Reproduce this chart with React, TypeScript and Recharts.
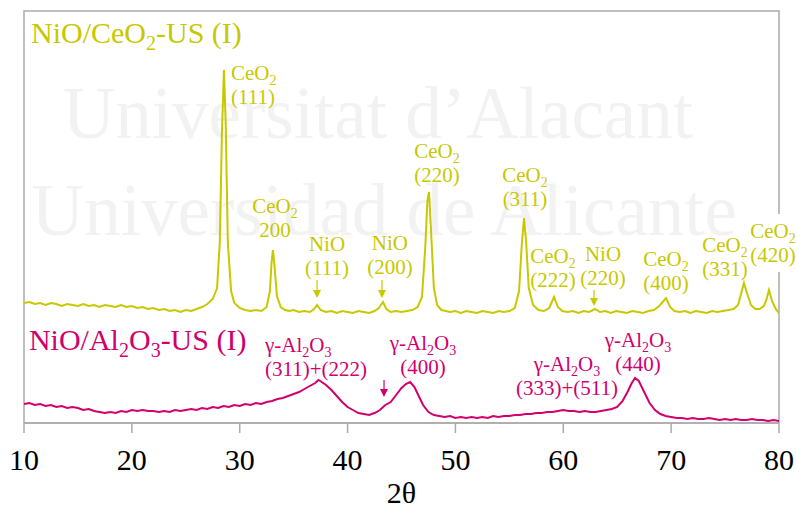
import React from "react";
import { LineChart, Line, XAxis, YAxis, ReferenceArea, ReferenceDot } from "recharts";

// 2θ positions and intensities (arbitrary units)
const ceo2Angles = [
  10, 10.5, 11, 11.5, 12, 12.5, 13, 13.5, 14, 14.5,
  15, 15.5, 16, 16.5, 17, 17.5, 18, 18.5, 19, 19.5,
  20, 20.5, 21, 21.5, 22, 22.5, 23, 23.5, 24, 24.5,
  25, 25.5, 26, 26.5, 27, 27.5, 27.9, 28.15, 28.35, 28.54,
  28.7, 28.9, 29.2, 29.5, 30, 30.5, 31, 31.5, 32, 32.5,
  32.8, 32.95, 33.08, 33.22, 33.45, 33.8, 34.2, 34.6, 35, 35.5,
  36, 36.5, 36.9, 37.17, 37.5, 38, 38.5, 39, 39.5, 40,
  40.5, 41, 41.5, 42, 42.5, 42.9, 43.28, 43.6, 44, 44.5,
  45, 45.5, 46, 46.5, 46.9, 47.2, 47.4, 47.55, 47.75, 48,
  48.3, 48.7, 49.1, 49.5, 50, 50.5, 51, 51.5, 52, 52.5,
  53, 53.5, 54, 54.5, 55, 55.5, 55.9, 56.15, 56.36, 56.55,
  56.8, 57.2, 57.7, 58.2, 58.7, 59.14, 59.5, 59.9, 60.4, 60.9,
  61.4, 61.9, 62.4, 62.94, 63.4, 63.9, 64.4, 64.9, 65.4, 65.9,
  66.4, 66.9, 67.4, 67.9, 68.4, 68.9, 69.52, 69.9, 70.3, 70.8,
  71.3, 71.8, 72.3, 72.8, 73.3, 73.8, 74.3, 74.8, 75.3, 75.8,
  76.2, 76.5, 76.75, 77, 77.4, 77.8, 78.2, 78.6, 78.85, 79.07,
  79.35, 79.7, 80,
];
const ceo2Counts = [
  120, 121, 119, 120, 118, 120, 119, 117, 119, 118,
  117, 119, 117, 118, 116, 118, 117, 116, 118, 116,
  117, 115, 116, 114, 115, 113, 114, 112, 113, 111,
  113, 112, 114, 116, 119, 124, 135, 180, 290, 353,
  300, 180, 132, 120, 115, 113, 112, 113, 112, 116,
  132, 160, 173, 158, 127, 116, 113, 112, 113, 111,
  112, 111, 114, 118, 113, 111, 112, 110, 112, 111,
  110, 112, 111, 110, 112, 115, 121, 114, 111, 112,
  111, 112, 113, 116, 126, 175, 222, 231, 190, 135,
  118, 113, 112, 111, 112, 110, 112, 111, 110, 112,
  111, 110, 112, 111, 112, 115, 132, 178, 205, 182,
  135, 118, 113, 112, 115, 126, 116, 112, 111, 112,
  110, 112, 111, 114, 111, 112, 110, 112, 111, 110,
  112, 111, 110, 112, 113, 117, 125, 116, 112, 111,
  112, 110, 112, 111, 110, 112, 111, 112, 113, 114,
  118, 130, 140, 131, 118, 114, 114, 117, 124, 133,
  122, 114, 110,
];

const al2o3Angles = [
  10, 10.5, 11, 11.5, 12, 12.5, 13, 13.5, 14, 14.5,
  15, 15.5, 16, 16.5, 17, 17.5, 18, 18.5, 19, 19.5,
  20, 20.5, 21, 21.5, 22, 22.5, 23, 23.5, 24, 24.5,
  25, 25.5, 26, 26.5, 27, 27.5, 28, 28.5, 29, 29.5,
  30, 30.5, 31, 31.5, 32, 32.5, 33, 33.5, 34, 34.5,
  35, 35.5, 36, 36.5, 37, 37.3, 37.6, 38, 38.5, 39,
  39.5, 40, 40.5, 41, 41.5, 42, 42.5, 43, 43.5, 44,
  44.5, 45, 45.4, 45.8, 46.2, 46.6, 47, 47.5, 48, 48.5,
  49, 49.5, 50, 50.5, 51, 51.5, 52, 52.5, 53, 53.5,
  54, 54.5, 55, 55.5, 56, 56.5, 57, 57.5, 58, 58.5,
  59, 59.5, 60, 60.5, 61, 61.5, 62, 62.5, 63, 63.5,
  64, 64.5, 65, 65.5, 66, 66.35, 66.65, 67, 67.5, 68,
  68.5, 69, 69.5, 70, 70.5, 71, 71.5, 72, 72.5, 73,
  73.5, 74, 74.5, 75, 75.5, 76, 76.5, 77, 77.5, 78,
  78.5, 79, 79.5, 80,
];
const al2o3Counts = [
  19, 20, 18, 19, 17, 18, 16, 17, 15, 16,
  15, 13, 14, 12, 11, 10, 11, 10, 12, 11,
  13, 12, 13, 12, 12, 11, 12, 11, 13, 12,
  13, 14, 13, 15, 14, 16, 15, 17, 16, 18,
  17, 19, 18, 20, 19, 21, 22, 24, 25, 27,
  29, 31, 34, 37, 40, 43, 41, 38, 33, 27,
  21, 16, 13, 10, 9, 8, 10, 13, 18, 21,
  28, 35, 39, 41, 36, 27, 18, 11, 8, 7,
  6, 7, 5, 6, 5, 6, 5, 6, 5, 7,
  6, 7, 7, 8, 8, 9, 9, 10, 10, 11,
  11, 12, 13, 12, 12, 11, 12, 11, 11, 12,
  13, 14, 16, 22, 32, 40, 45, 42, 31, 20,
  13, 9, 7, 6, 5, 5, 4, 5, 4, 4,
  5, 4, 3, 4, 3, 4, 3, 3, 4, 3,
  3, 2, 3, 2,
];

const xTicks = [10, 20, 30, 40, 50, 60, 70, 80];

// peak labels: "_n" marks a subscript digit
const ceo2Labels = [
  { x: 10.65, y: 380, lines: ["NiO/CeO_2-US (I)"], anchor: "start", size: 30 },
  { x: 29.19, y: 343, lines: ["CeO_2", "(111)"], anchor: "start" },
  { x: 33.27, y: 210, lines: ["CeO_2", "200"] },
  { x: 38.09, y: 172, lines: ["NiO", "(111)"] },
  { x: 43.93, y: 173, lines: ["NiO", "(200)"] },
  { x: 48.29, y: 265, lines: ["CeO_2", "(220)"] },
  { x: 56.45, y: 241, lines: ["CeO_2", "(311)"] },
  { x: 59.05, y: 160, lines: ["CeO_2", "(222)"] },
  { x: 63.68, y: 162, lines: ["NiO", "(220)"] },
  { x: 69.52, y: 157, lines: ["CeO_2", "(400)"] },
  { x: 74.99, y: 171, lines: ["CeO_2", "(331)"] },
  { x: 79.44, y: 185, lines: ["CeO_2", "(420)"], bg: true },
];
const al2o3Labels = [
  { x: 10.46, y: 73, lines: ["NiO/Al_2O_3-US (I)"], anchor: "start", size: 30 },
  { x: 32.34, y: 71, lines: ["γ-Al_2O_3", "(311)+(222)"], anchor: "start" },
  { x: 46.99, y: 73, lines: ["γ-Al_2O_3", "(400)"] },
  { x: 60.34, y: 52, lines: ["γ-Al_2O_3", "(333)+(511)"] },
  { x: 66.93, y: 76, lines: ["γ-Al_2O_3", "(440)"] },
];
const ceo2Arrows = [
  { x: 37.17, y: 125, len: 18 },
  { x: 43.19, y: 125, len: 18 },
  { x: 62.85, y: 117, len: 16 },
];
const al2o3Arrows = [{ x: 43.38, y: 26, len: 17 }];

const YELLOW = "#c8c800";
const MAGENTA = "#d2006c";
const GRID = "#ababab";
const SERIF = "'Liberation Serif', 'Times New Roman', serif";

const ceo2Rows = ceo2Angles.map((x, i) => ({ x, v: ceo2Counts[i] }));
const al2o3Rows = al2o3Angles.map((x, i) => ({ x, v: al2o3Counts[i] }));

function RichText({ x, y, text, size, fill, anchor }: any) {
  const parts = text.split(/_(\d)/);
  const sub = Math.round(size * 0.68);
  const drop = Math.round(size * 0.24);
  return (
    <text x={x} y={y} fill={fill} textAnchor={anchor} style={{ fontFamily: SERIF, fontSize: size }}>
      {parts.map((p: string, i: number) => {
        if (i % 2 === 1)
          return (
            <tspan key={i} style={{ fontSize: sub }} dy={drop}>
              {p}
            </tspan>
          );
        if (p === "") return null;
        return (
          <tspan key={i} dy={i === 0 ? 0 : -drop}>
            {p}
          </tspan>
        );
      })}
    </text>
  );
}

const labelShape = (a: any, color: string) => (props: any) => {
  const { cx, cy } = props;
  const size = a.size ?? 21;
  return (
    <g>
      {a.bg && <rect x={cx - 26} y={cy - 24} width={52} height={58} fill="#fff" />}
      {a.lines.map((t: string, i: number) => (
        <RichText key={i} x={cx} y={cy + i * 24} text={t} size={size} fill={color} anchor={a.anchor ?? "middle"} />
      ))}
    </g>
  );
};

const arrowShape = (len: number, color: string) => (props: any) => {
  const { cx, cy } = props;
  return (
    <g>
      <line x1={cx} y1={cy - len} x2={cx} y2={cy - 7} stroke={color} strokeWidth={1.2} />
      <polygon points={`${cx - 4},${cy - 8} ${cx + 4},${cy - 8} ${cx},${cy}`} fill={color} />
    </g>
  );
};

export default function App() {
  return (
    <div style={{ position: "absolute", left: 0, top: 0, width: 797, height: 508, background: "#fff", fontFamily: SERIF }}>
      {/* faint watermark behind the plot */}
      <svg width={797} height={508} style={{ position: "absolute", left: 0, top: 0 }}>
        <text x={693} y={138} textAnchor="end" fill="#f2f2f2" style={{ fontFamily: SERIF, fontSize: 73 }}>
          Universitat d’Alacant
        </text>
        <text x={737} y={235} textAnchor="end" fill="#f2f2f2" style={{ fontFamily: SERIF, fontSize: 73 }}>
          Universidad de Alicante
        </text>
      </svg>
      <div style={{ position: "absolute", left: 0, top: 0 }}>
        <LineChart width={797} height={508} margin={{ top: 11, right: 18, bottom: 0, left: 24 }} style={{ fontFamily: SERIF }}>
          <XAxis
            type="number"
            dataKey="x"
            domain={[10, 80]}
            ticks={xTicks}
            allowDataOverflow
            height={85}
            tickSize={10}
            tickMargin={16}
            axisLine={{ stroke: GRID, strokeWidth: 1.5 }}
            tickLine={{ stroke: GRID, strokeWidth: 1.5 }}
            tick={{ fill: "#000", fontSize: 30, fontFamily: SERIF }}
            label={{ value: "2θ", position: "insideBottom", offset: 5, fill: "#000", fontSize: 30, fontFamily: SERIF }}
          />
          <YAxis hide domain={[0, 412]} allowDataOverflow />
          <ReferenceArea x1={10} x2={80} y1={0} y2={412} fill="none" fillOpacity={0} stroke={GRID} strokeWidth={1.5} ifOverflow="visible" />
          <Line data={ceo2Rows} dataKey="v" stroke={YELLOW} strokeWidth={2} dot={false} isAnimationActive={false} />
          <Line data={al2o3Rows} dataKey="v" stroke={MAGENTA} strokeWidth={2} dot={false} isAnimationActive={false} />
          {ceo2Arrows.map((a, i) => (
            <ReferenceDot key={`ya${i}`} x={a.x} y={a.y} r={1} ifOverflow="visible" shape={arrowShape(a.len, YELLOW)} />
          ))}
          {al2o3Arrows.map((a, i) => (
            <ReferenceDot key={`ma${i}`} x={a.x} y={a.y} r={1} ifOverflow="visible" shape={arrowShape(a.len, MAGENTA)} />
          ))}
          {ceo2Labels.map((a, i) => (
            <ReferenceDot key={`yl${i}`} x={a.x} y={a.y} r={1} ifOverflow="visible" shape={labelShape(a, YELLOW)} />
          ))}
          {al2o3Labels.map((a, i) => (
            <ReferenceDot key={`ml${i}`} x={a.x} y={a.y} r={1} ifOverflow="visible" shape={labelShape(a, MAGENTA)} />
          ))}
        </LineChart>
      </div>
    </div>
  );
}
